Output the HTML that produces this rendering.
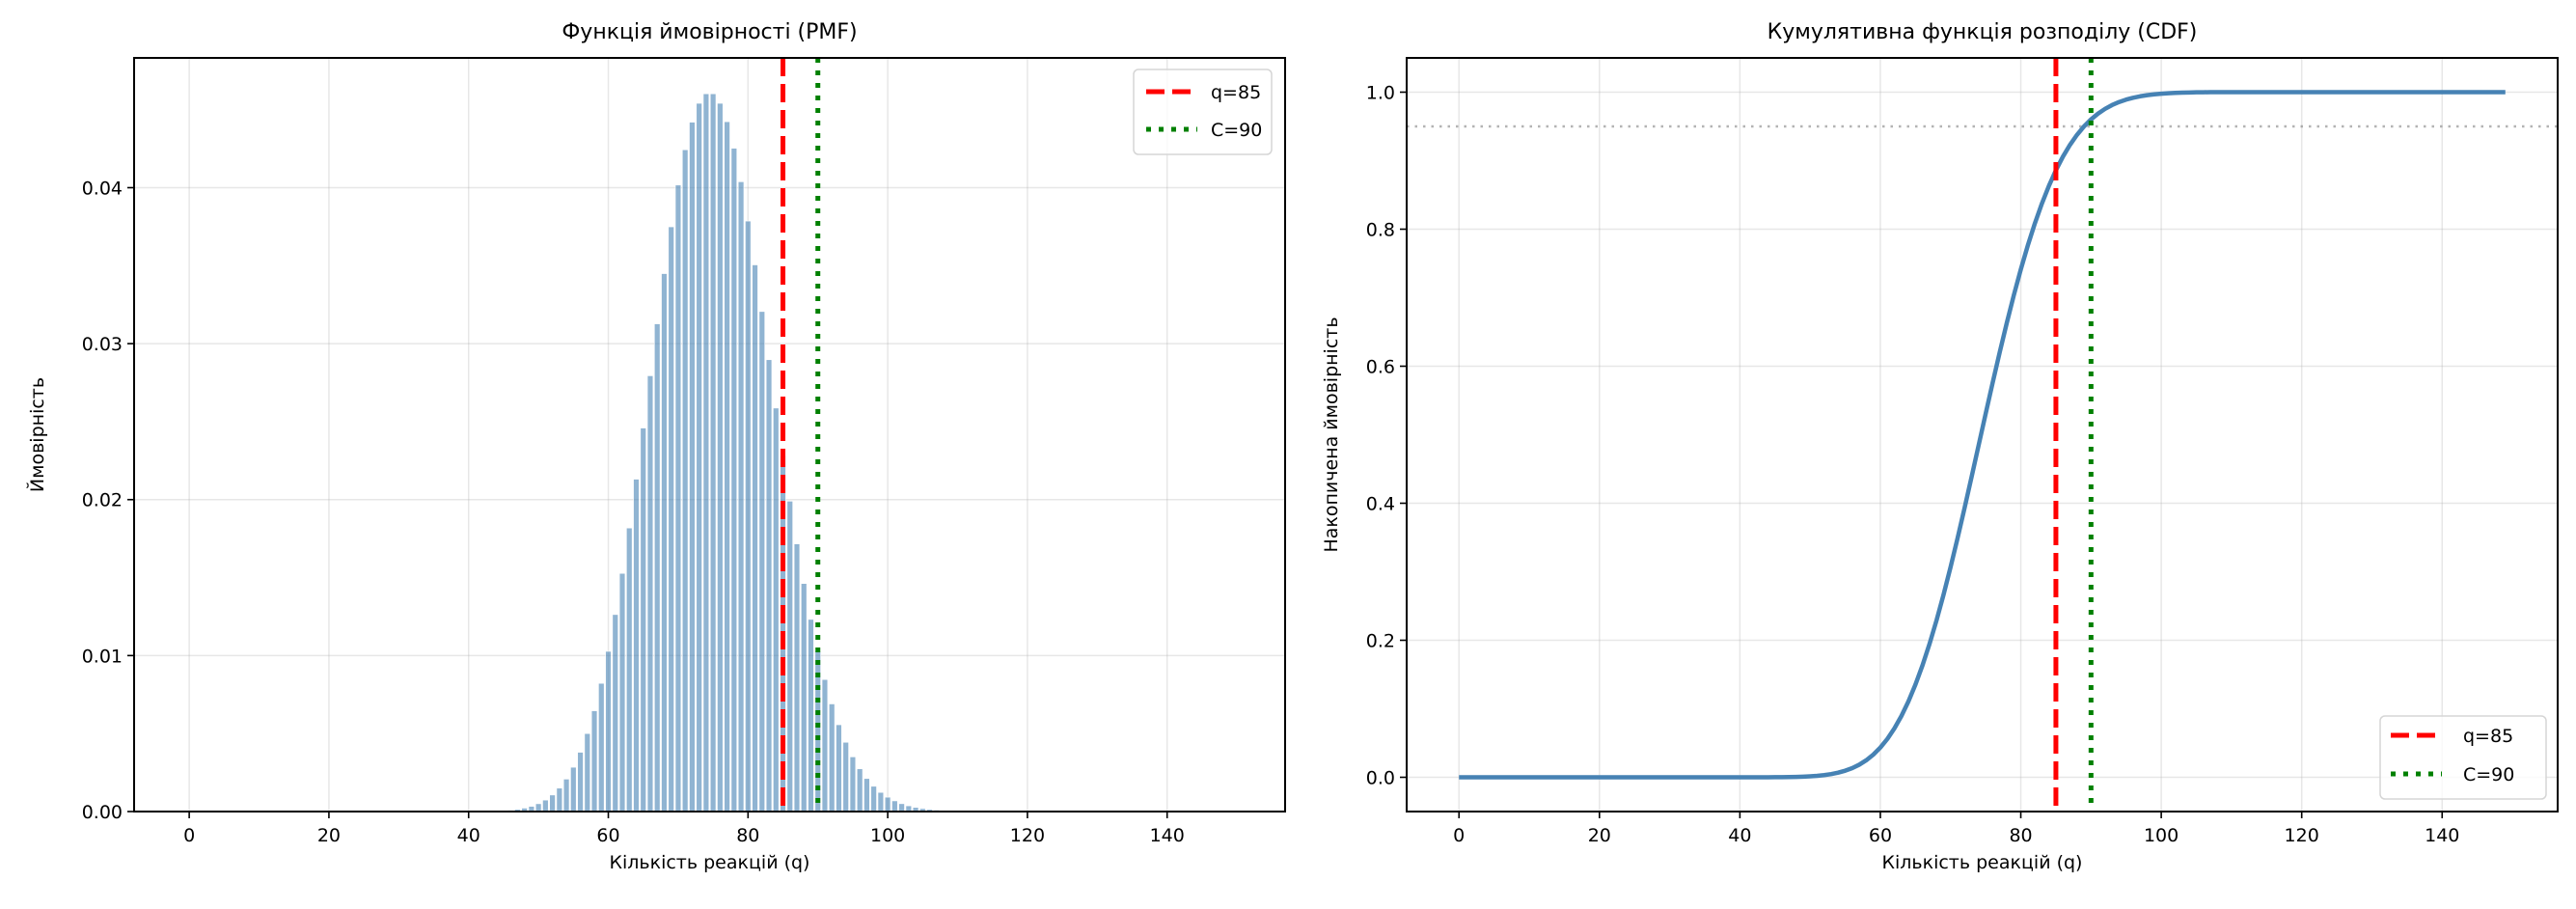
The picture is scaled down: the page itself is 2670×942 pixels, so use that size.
<!DOCTYPE html>
<html><head><meta charset="utf-8"><style>
html,body{margin:0;padding:0;background:#fff;}
svg{display:block;font-family:"DejaVu Sans","Liberation Sans",sans-serif;}
</style></head><body>
<svg id="chart" width="2670" height="942" viewBox="0 0 2670 942" xmlns="http://www.w3.org/2000/svg"></svg>
<script>
const qValues = [40,41,42,43,44,45,46,47,48,49,50,51,52,53,54,55,56,57,58,59,60,61,62,63,64,65,66,67,68,69,70,71,72,73,74,75,76,77,78,79,80,81,82,83,84,85,86,87,88,89,90,91,92,93,94,95,96,97,98,99,100,101,102,103,104,105,106,107,108,109,110];
const pmfValues = [0.0000033,0.0000060,0.0000108,0.0000188,0.0000321,0.0000536,0.0000873,0.000139,0.000218,0.000333,0.000500,0.000735,0.00106,0.00150,0.00208,0.00284,0.00380,0.00500,0.00646,0.00822,0.01027,0.01263,0.01527,0.01818,0.02131,0.02459,0.02794,0.03127,0.03449,0.03749,0.04017,0.04243,0.04420,0.04541,0.04602,0.04602,0.04541,0.04423,0.04253,0.04038,0.03786,0.03505,0.03206,0.02897,0.02587,0.02282,0.01990,0.01716,0.01462,0.01232,0.01027,0.008464,0.006900,0.005565,0.004440,0.003505,0.002738,0.002117,0.001620,0.001227,0.000921,0.000684,0.000503,0.000366,0.000264,0.000189,0.000134,0.0000937,0.0000651,0.0000448,0.0000305];
const xTicks = [0,20,40,60,80,100,120,140];
const pmfYTicks = [0,0.01,0.02,0.03,0.04];
const pmfYLabels = ["0.00","0.01","0.02","0.03","0.04"];
const cdfYTicks = [0,0.2,0.4,0.6,0.8,1.0];
const cdfYLabels = ["0.0","0.2","0.4","0.6","0.8","1.0"];
const qLine = 85;
const cLine = 90;
const levelLine = 0.95;
const qMax = 149;

const NS = "http://www.w3.org/2000/svg";
const svg = document.getElementById('chart');
function mk(tag, attrs, parent, text){
  const e = document.createElementNS(NS, tag);
  for (const k in attrs) e.setAttribute(k, attrs[k]);
  if (text !== undefined) e.textContent = text;
  (parent||svg).appendChild(e);
  return e;
}
const allQ = []; for (let q=0;q<=qMax;q++) allQ.push(q);
function pmfAt(q){ const i = qValues.indexOf(q); return i>=0 ? pmfValues[i] : 0; }
const cdfValues = []; let acc=0; allQ.forEach(q=>{acc+=pmfAt(q); cdfValues.push(Math.min(acc,1));});

// ---------- Left axes ----------
const L = {x0:139, x1:1332, y0:60, y1:841};
const pmfMax = Math.max(...pmfValues)*1.05;
const lxMin=-7.89, lxMax=156.89;
const lx = v => L.x0 + (v-lxMin)/(lxMax-lxMin)*(L.x1-L.x0);
const ly = v => L.y1 - v/pmfMax*(L.y1-L.y0);

const gL = mk('g',{});


xTicks.forEach(t=>{
  const g = mk('line',{x1:lx(t),x2:lx(t),y1:L.y0,y2:L.y1,stroke:'#b0b0b0','stroke-opacity':0.3,'stroke-width':1.5},gL);
  
  
});
pmfYTicks.forEach(t=>{
  const g = mk('line',{x1:L.x0,x2:L.x1,y1:ly(t),y2:ly(t),stroke:'#b0b0b0','stroke-opacity':0.3,'stroke-width':1.5},gL);
  
  
});
allQ.forEach(q=>{
  const v = pmfAt(q); if (v<=0) return;
  const r = mk('rect',{x:lx(q-0.4),y:ly(v),width:lx(q+0.4)-lx(q-0.4),height:ly(0)-ly(v),fill:'#4682b4','fill-opacity':0.6,stroke:'#fff','stroke-width':0.6},gL);
  
  
});
let e;
e = mk('line',{x1:lx(qLine),x2:lx(qLine),y1:L.y0,y2:L.y1,stroke:'#ff0000','stroke-width':5,'stroke-dasharray':'19,8'},gL);
 
e = mk('line',{x1:lx(cLine),x2:lx(cLine),y1:L.y0,y2:L.y1,stroke:'#008000','stroke-width':5,'stroke-dasharray':'5,8'},gL);
 
e = mk('rect',{x:L.x0,y:L.y0,width:L.x1-L.x0,height:L.y1-L.y0,fill:'none',stroke:'#000','stroke-width':2},gL);
 
xTicks.forEach(t=>{
  mk('line',{x1:lx(t),x2:lx(t),y1:L.y1,y2:L.y1+7,stroke:'#000','stroke-width':1.6},gL);
  e = mk('text',{x:lx(t),y:L.y1+31,'font-size':19,'text-anchor':'middle',fill:'#000'},gL,String(t));
   
});
pmfYTicks.forEach((t,i)=>{
  mk('line',{x1:L.x0-7,x2:L.x0,y1:ly(t),y2:ly(t),stroke:'#000','stroke-width':1.6},gL);
  e = mk('text',{x:L.x0-12,y:ly(t)+7,'font-size':19,'text-anchor':'end',fill:'#000'},gL,pmfYLabels[i]);
   
});
e = mk('text',{x:(L.x0+L.x1)/2,y:40,'font-size':22,'text-anchor':'middle',fill:'#000'},gL,'Функція ймовірності (PMF)');
 
e = mk('text',{x:(L.x0+L.x1)/2,y:900,'font-size':19,'text-anchor':'middle',fill:'#000'},gL,'Кількість реакцій (q)');
 
e = mk('text',{x:0,y:0,'font-size':19,'text-anchor':'middle',fill:'#000',transform:'translate(45,'+((L.y0+L.y1)/2)+') rotate(-90)'},gL,'Ймовірність');
 
const lg = mk('g',{},gL);
 
mk('rect',{x:1175,y:72,width:143,height:88,rx:5,fill:'#fff','fill-opacity':0.8,stroke:'#d5d5d5','stroke-width':1.5},lg);
mk('line',{x1:1188,x2:1241,y1:95,y2:95,stroke:'#ff0000','stroke-width':5,'stroke-dasharray':'19,8'},lg);
mk('line',{x1:1188,x2:1241,y1:134,y2:134,stroke:'#008000','stroke-width':5,'stroke-dasharray':'5,8'},lg);
e = mk('text',{x:1255,y:102,'font-size':19,fill:'#000'},lg,'q=85');  
e = mk('text',{x:1255,y:141,'font-size':19,fill:'#000'},lg,'C=90');  

// ---------- Right axes ----------
const R = {x0:1458, x1:2651, y0:60, y1:841};
const rxMin=-7.45, rxMax=156.45, ryMin=-0.05, ryMax=1.05;
const rx = v => R.x0 + (v-rxMin)/(rxMax-rxMin)*(R.x1-R.x0);
const ry = v => R.y1 - (v-ryMin)/(ryMax-ryMin)*(R.y1-R.y0);
const gR = mk('g',{});


xTicks.forEach(t=>{
  e = mk('line',{x1:rx(t),x2:rx(t),y1:R.y0,y2:R.y1,stroke:'#b0b0b0','stroke-opacity':0.3,'stroke-width':1.5},gR);
   
});
cdfYTicks.forEach(t=>{
  e = mk('line',{x1:R.x0,x2:R.x1,y1:ry(t),y2:ry(t),stroke:'#b0b0b0','stroke-opacity':0.3,'stroke-width':1.5},gR);
   
});
e = mk('line',{x1:R.x0,x2:R.x1,y1:ry(levelLine),y2:ry(levelLine),stroke:'#808080','stroke-opacity':0.6,'stroke-width':2.5,'stroke-dasharray':'2.5,6'},gR);
 
const pts = allQ.map((q,i)=>rx(q).toFixed(2)+','+ry(cdfValues[i]).toFixed(2)).join(' ');
e = mk('polyline',{points:pts,fill:'none',stroke:'#4682b4','stroke-width':4.5,'stroke-linejoin':'round'},gR);
 
e = mk('line',{x1:rx(qLine),x2:rx(qLine),y1:R.y0,y2:R.y1,stroke:'#ff0000','stroke-width':5,'stroke-dasharray':'19,8'},gR);
 
e = mk('line',{x1:rx(cLine),x2:rx(cLine),y1:R.y0,y2:R.y1,stroke:'#008000','stroke-width':5,'stroke-dasharray':'5,8'},gR);
 
e = mk('rect',{x:R.x0,y:R.y0,width:R.x1-R.x0,height:R.y1-R.y0,fill:'none',stroke:'#000','stroke-width':2},gR);
 
xTicks.forEach(t=>{
  mk('line',{x1:rx(t),x2:rx(t),y1:R.y1,y2:R.y1+7,stroke:'#000','stroke-width':1.6},gR);
  e = mk('text',{x:rx(t),y:R.y1+31,'font-size':19,'text-anchor':'middle',fill:'#000'},gR,String(t));
   
});
cdfYTicks.forEach((t,i)=>{
  mk('line',{x1:R.x0-7,x2:R.x0,y1:ry(t),y2:ry(t),stroke:'#000','stroke-width':1.6},gR);
  e = mk('text',{x:R.x0-12,y:ry(t)+7,'font-size':19,'text-anchor':'end',fill:'#000'},gR,cdfYLabels[i]);
   
});
e = mk('text',{x:(R.x0+R.x1)/2,y:40,'font-size':22,'text-anchor':'middle',fill:'#000'},gR,'Кумулятивна функція розподілу (CDF)');
 
e = mk('text',{x:(R.x0+R.x1)/2,y:900,'font-size':19,'text-anchor':'middle',fill:'#000'},gR,'Кількість реакцій (q)');
 
e = mk('text',{x:0,y:0,'font-size':19,'text-anchor':'middle',fill:'#000',transform:'translate(1386,'+((R.y0+R.y1)/2)+') rotate(-90)'},gR,'Накопичена ймовірність');
 
const rg = mk('g',{},gR);
 
mk('rect',{x:2467,y:742,width:172,height:86,rx:5,fill:'#fff','fill-opacity':0.8,stroke:'#d5d5d5','stroke-width':1.5},rg);
mk('line',{x1:2478,x2:2531,y1:762,y2:762,stroke:'#ff0000','stroke-width':5,'stroke-dasharray':'19,8'},rg);
mk('line',{x1:2478,x2:2531,y1:802,y2:802,stroke:'#008000','stroke-width':5,'stroke-dasharray':'5,8'},rg);
e = mk('text',{x:2553,y:769,'font-size':19,fill:'#000'},rg,'q=85');  
e = mk('text',{x:2553,y:809,'font-size':19,fill:'#000'},rg,'C=90');  
</script>
</body></html>
